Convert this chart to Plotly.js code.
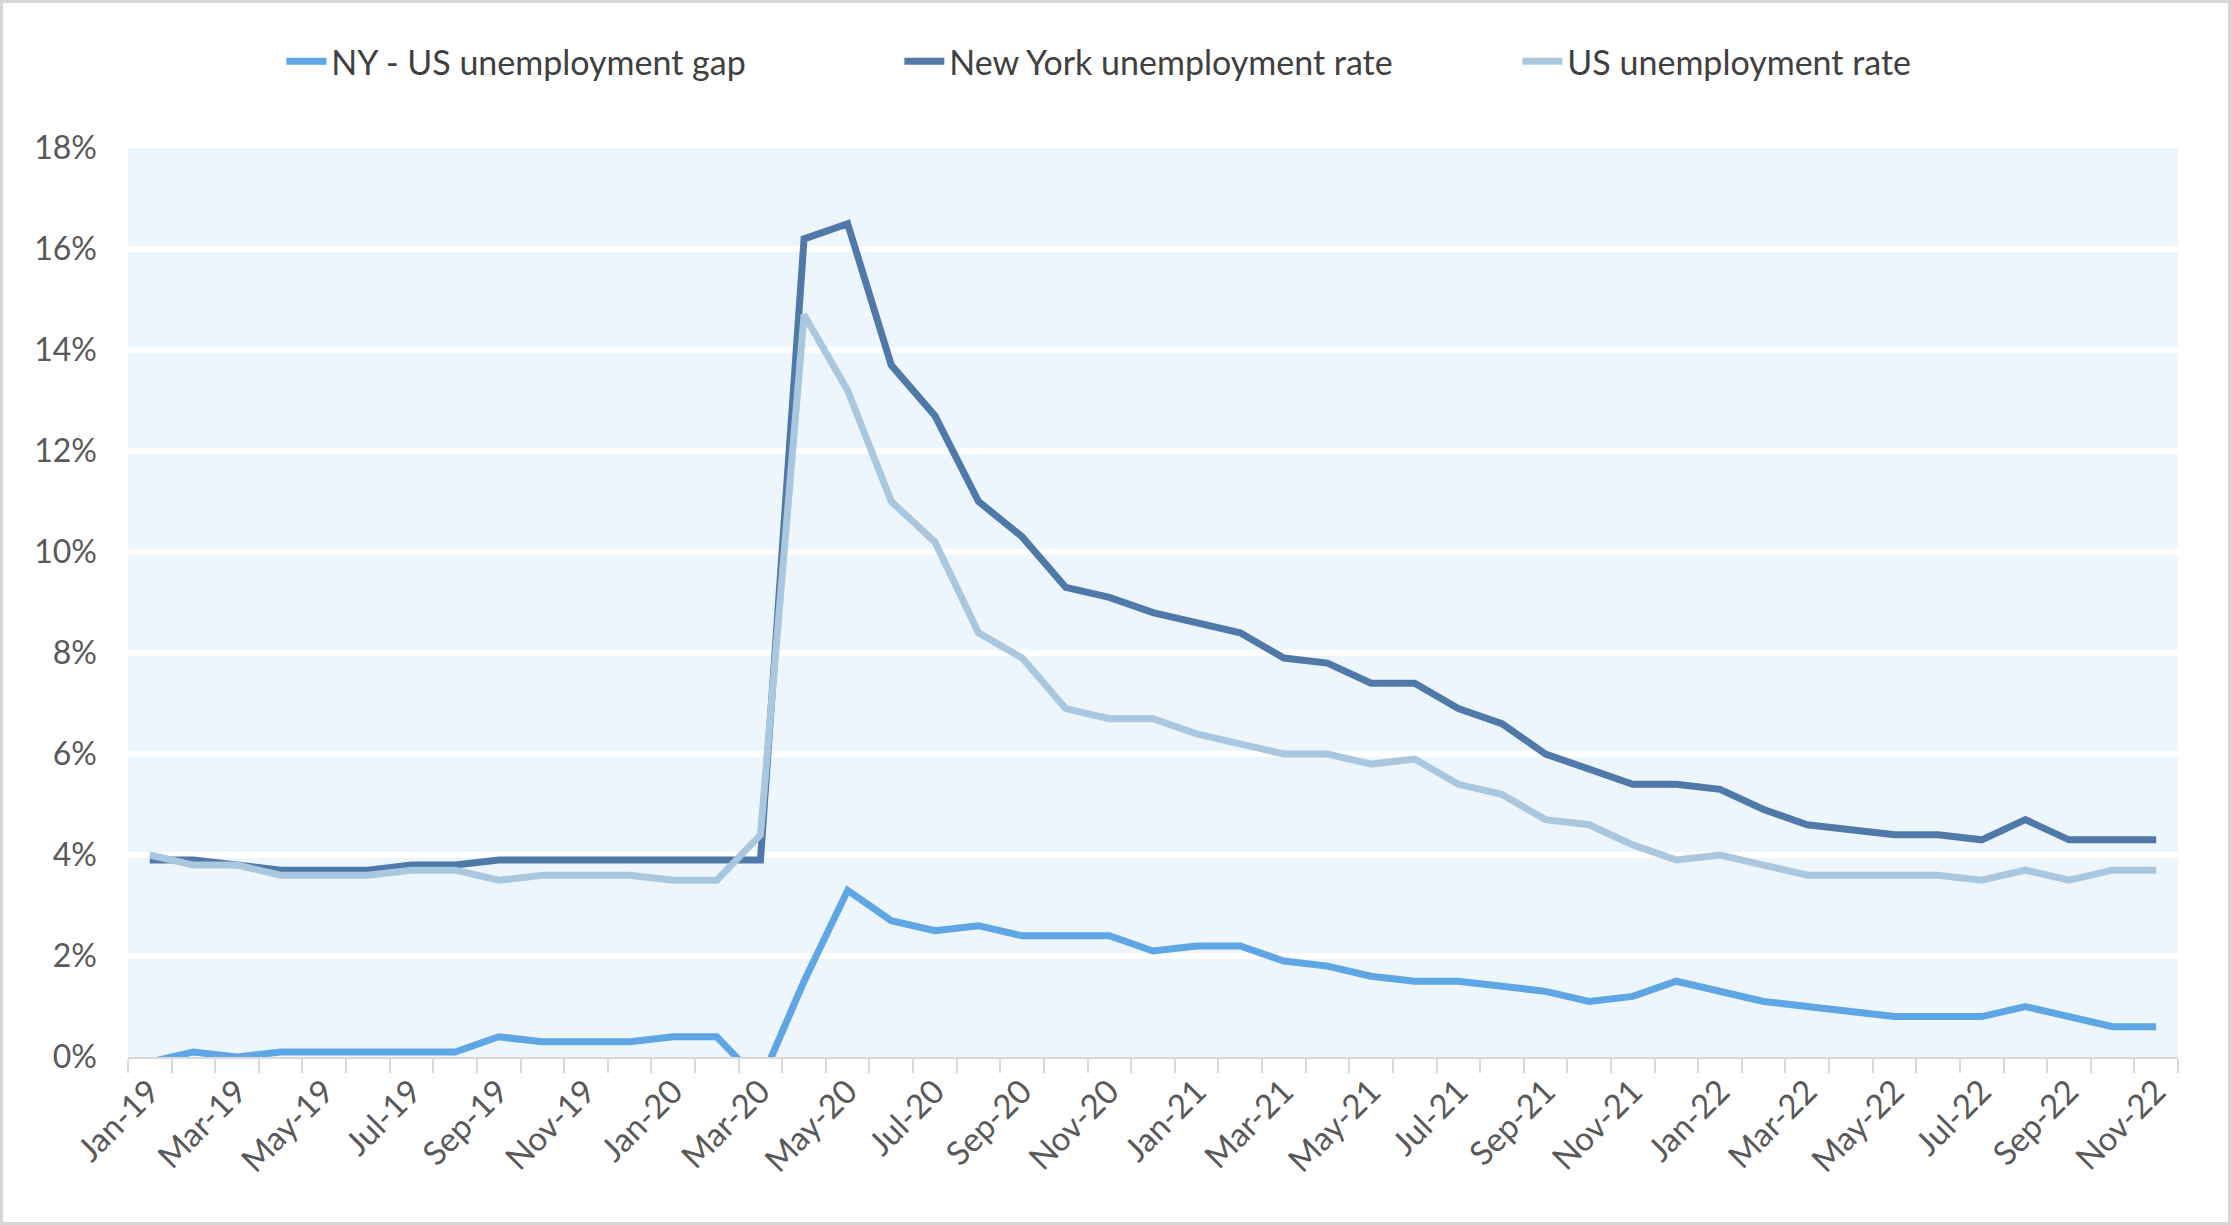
<!DOCTYPE html>
<html>
<head>
<meta charset="utf-8">
<script src="https://cdn.plot.ly/plotly-3.0.1.min.js"></script>
<style>
html, body { margin: 0; padding: 0; background: #ffffff; }
#chart { position: absolute; left: 0; top: 0; width: 2231px; height: 1225px; }
#frame { position: absolute; left: 0; top: 0; width: 2231px; height: 1225px; box-sizing: border-box; border: 3px solid #d6d6d6; pointer-events: none; }
</style>
</head>
<body>
<div id="chart"></div>
<div id="frame"></div>
<script>
const months = ['Jan-19','Feb-19','Mar-19','Apr-19','May-19','Jun-19','Jul-19','Aug-19','Sep-19','Oct-19','Nov-19','Dec-19',
  'Jan-20','Feb-20','Mar-20','Apr-20','May-20','Jun-20','Jul-20','Aug-20','Sep-20','Oct-20','Nov-20','Dec-20',
  'Jan-21','Feb-21','Mar-21','Apr-21','May-21','Jun-21','Jul-21','Aug-21','Sep-21','Oct-21','Nov-21','Dec-21',
  'Jan-22','Feb-22','Mar-22','Apr-22','May-22','Jun-22','Jul-22','Aug-22','Sep-22','Oct-22','Nov-22'];

const xTickLabels = ['Jan-19','Mar-19','May-19','Jul-19','Sep-19','Nov-19','Jan-20','Mar-20','May-20','Jul-20','Sep-20','Nov-20',
  'Jan-21','Mar-21','May-21','Jul-21','Sep-21','Nov-21','Jan-22','Mar-22','May-22','Jul-22','Sep-22','Nov-22'];

// NY - US unemployment gap (%)
const gapSeries = [-0.1, 0.1, 0.0, 0.1, 0.1, 0.1, 0.1, 0.1, 0.4, 0.3, 0.3, 0.3,
  0.4, 0.4, -0.5, 1.5, 3.3, 2.7, 2.5, 2.6, 2.4, 2.4, 2.4, 2.1,
  2.2, 2.2, 1.9, 1.8, 1.6, 1.5, 1.5, 1.4, 1.3, 1.1, 1.2, 1.5,
  1.3, 1.1, 1.0, 0.9, 0.8, 0.8, 0.8, 1.0, 0.8, 0.6, 0.6];

// New York unemployment rate (%)
const nyRate = [3.9, 3.9, 3.8, 3.7, 3.7, 3.7, 3.8, 3.8, 3.9, 3.9, 3.9, 3.9,
  3.9, 3.9, 3.9, 16.2, 16.5, 13.7, 12.7, 11.0, 10.3, 9.3, 9.1, 8.8,
  8.6, 8.4, 7.9, 7.8, 7.4, 7.4, 6.9, 6.6, 6.0, 5.7, 5.4, 5.4,
  5.3, 4.9, 4.6, 4.5, 4.4, 4.4, 4.3, 4.7, 4.3, 4.3, 4.3];

// US unemployment rate (%)
const usRate = [4.0, 3.8, 3.8, 3.6, 3.6, 3.6, 3.7, 3.7, 3.5, 3.6, 3.6, 3.6,
  3.5, 3.5, 4.4, 14.7, 13.2, 11.0, 10.2, 8.4, 7.9, 6.9, 6.7, 6.7,
  6.4, 6.2, 6.0, 6.0, 5.8, 5.9, 5.4, 5.2, 4.7, 4.6, 4.2, 3.9,
  4.0, 3.8, 3.6, 3.6, 3.6, 3.6, 3.5, 3.7, 3.5, 3.7, 3.7];

const seriesNames = ['NY - US unemployment gap', 'New York unemployment rate', 'US unemployment rate'];
const seriesColors = ['#5ea6e4', '#4f79a8', '#a9c8e0'];

const FONT = 'Lato, "Liberation Sans", Arial, sans-serif';

const traces = [gapSeries, nyRate, usRate].map((vals, i) => ({
  type: 'scatter',
  mode: 'lines',
  name: seriesNames[i],
  x: months,
  y: vals,
  line: { color: seriesColors[i], width: 7, shape: 'linear' },
  hoverinfo: 'x+y+name'
}));

const layout = {
  width: 2231,
  height: 1225,
  paper_bgcolor: '#ffffff',
  plot_bgcolor: '#eef6fd',
  margin: { l: 128, r: 53, t: 148, b: 168, pad: 0 },
  font: { family: FONT, size: 31, color: '#595959' },
  showlegend: true,
  legend: {
    orientation: 'h',
    x: 0.527, xanchor: 'center',
    y: 1.095, yanchor: 'middle',
    font: { family: FONT, size: 34, color: '#404040' },
    itemwidth: 40,
    entrywidth: 563,
    entrywidthmode: 'pixels',
    traceorder: 'normal',
    bgcolor: 'rgba(0,0,0,0)'
  },
  xaxis: {
    type: 'category',
    categoryorder: 'array',
    categoryarray: months,
    range: [-0.5, months.length - 0.5],
    tickvals: months,
    ticktext: months.map(m => xTickLabels.includes(m) ? m : ''),
    tickson: 'boundaries',
    tickangle: -45,
    ticks: 'outside',
    ticklen: 14,
    tickwidth: 2,
    tickcolor: '#d9d9d9',
    showline: true,
    linecolor: '#d9d9d9',
    linewidth: 2,
    showgrid: false,
    zeroline: false,
    tickfont: { family: FONT, size: 33, color: '#595959' },
    fixedrange: true
  },
  yaxis: {
    range: [0, 18],
    dtick: 2,
    tick0: 0,
    ticksuffix: '%',
    showgrid: true,
    gridcolor: '#ffffff',
    gridwidth: 6,
    zeroline: false,
    showline: false,
    ticks: '',
    ticklabelstandoff: 30,
    tickfont: { family: FONT, size: 32, color: '#595959' },
    fixedrange: true
  }
};

Plotly.newPlot('chart', traces, layout, { displayModeBar: false, responsive: false, staticPlot: false });
</script>
</body>
</html>
